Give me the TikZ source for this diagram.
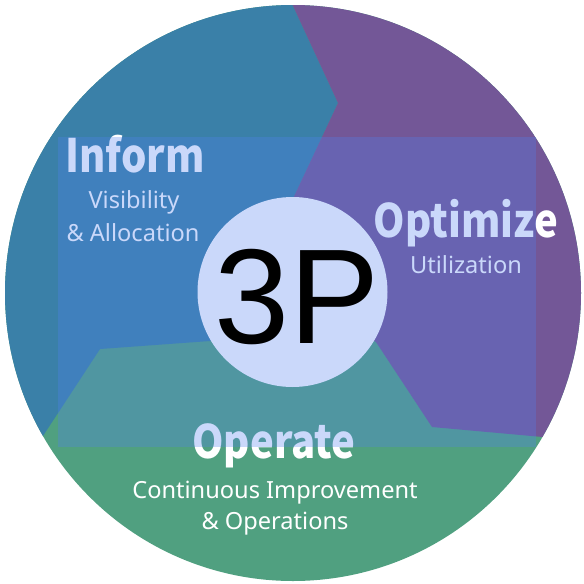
\documentclass[tikz,border=0pt]{standalone}
\usepackage{fontspec}
\setmainfont{Noto Sans}
\newfontfamily\headfont{Noto Sans CJK SC}[FakeStretch=0.87]
\newfontfamily\bigfont{Liberation Sans}
\usepackage{tikz}
\usepackage{xcolor}

\definecolor{informblue}{RGB}{58,128,168}
\definecolor{optimizepurple}{RGB}{115,87,151}
\definecolor{operategreen}{RGB}{80,160,128}
\definecolor{veilblue}{RGB}{80,128,240}

\tikzset{
  headline/.style={anchor=base,text=white,inner sep=0,font=\headfont\bfseries\fontsize{46}{50}\selectfont},
  subline/.style={anchor=base,text=white,inner sep=0,font=\fontsize{23.6}{28}\selectfont},
}

\begin{document}
\begin{tikzpicture}[x=1pt,y=-1pt]
\useasboundingbox (0,0) rectangle (584,584);
\begin{scope}
\clip (293,293) circle[radius=288pt];
\fill[operategreen] (0,0) rectangle (584,584);
\fill[informblue] (292,292) -- (290,205) -- (338,103) -- (281,-20) -- (-20,-20) -- (-20,532) -- (100,349) -- (210,341) -- cycle;
\fill[optimizepurple] (292,292) -- (290,205) -- (338,103) -- (281,-20) -- (620,-20) -- (620,444) -- (432,427) -- (376,342) -- cycle;
\end{scope}
\node[headline] (inform) at (135,172) {Inform};
\node[subline] (informa) at (134,208) {Visibility};
\node[subline] (informb) at (133,241) {\& Allocation};
\node[headline] (optimize) at (466,237) {Optimize};
\node[subline] (optimizea) at (466,273) {Utilization};
\node[headline] (operate) at (274,458) {Operate};
\node[subline] (operatea) at (275,498) {Continuous Improvement};
\node[subline] (operateb) at (275,529) {\& Operations};
\fill[white] (292.5,292) circle[radius=95pt];
\fill[veilblue,fill opacity=0.3] (58,137) rectangle (536,447);
\node[anchor=base,inner sep=0,font=\bigfont\fontsize{135}{140}\selectfont] (hub) at (297.5,343) {3P};
\end{tikzpicture}
\end{document}
